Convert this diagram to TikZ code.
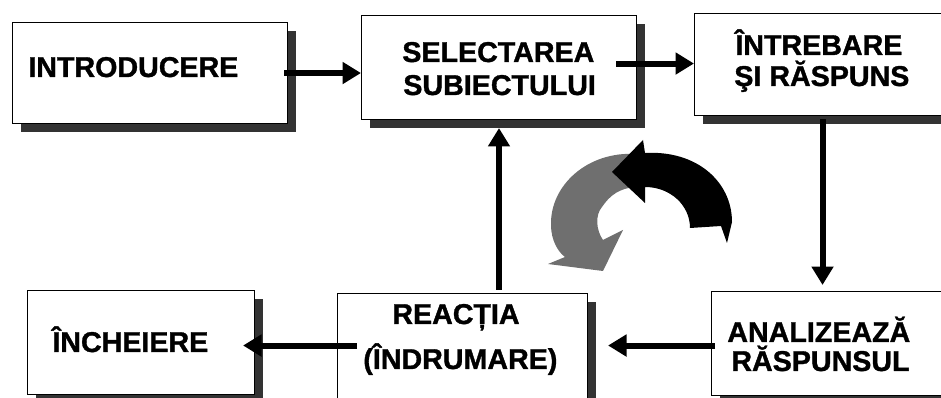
\documentclass[tikz,border=0pt]{standalone}
\usepackage{fontspec}
\setmainfont{Liberation Sans}[BoldFeatures={FakeBold=1.2}]
\usetikzlibrary{arrows.meta,calc,shadows}
\definecolor{shadowc}{HTML}{333333}
\definecolor{grayarrow}{HTML}{6F6F6F}
\def\pxu{0.02cm}
\tikzset{
  box/.style={draw=black, line width=0.6pt, fill=white, inner sep=0pt, anchor=north west,
    drop shadow={shadow xshift=0.16cm, shadow yshift=-0.16cm, opacity=1, fill=shadowc}},
  txt/.style={font=\bfseries\fontsize{16.3}{19}\selectfont, inner sep=0pt, anchor=base west},
  arr/.style={line width=3.4pt, -{Triangle[width=12pt,length=10.5pt]}},
}
\begin{document}
\begin{tikzpicture}[x=0.02cm,y=-0.02cm]
\useasboundingbox (0,0) rectangle (941,398);
\clip (0,0) rectangle (941,398);
% boxes
\node[box, minimum width=275*\pxu, minimum height=101*\pxu] (b1) at (12,22) {};
\node[box, minimum width=275*\pxu, minimum height=104*\pxu] (b2) at (361,15) {};
\node[box, minimum width=256*\pxu, minimum height=102*\pxu] (b3) at (694,13) {};
\node[box, minimum width=239*\pxu, minimum height=104*\pxu] (b4) at (711,291) {};
\node[box, minimum width=250*\pxu, minimum height=112*\pxu] (b5) at (337,293) {};
\node[box, minimum width=227*\pxu, minimum height=104*\pxu] (b6) at (27,290) {};
% texts
\node[txt] (t1) at (28,77) {INTRODUCERE};
\node[txt] (t2a) at (402,62) {SELECTAREA};
\node[txt] (t2b) at (403,95) {SUBIECTULUI};
\node[txt] (t3a) at (735,55) {ÎNTREBARE};
\node[txt] (t3b) at (734,86) {ŞI RĂSPUNS};
\node[txt] (t4a) at (727,342) {ANALIZEAZĂ};
\node[txt] (t4b) at (731,371) {RĂSPUNSUL};
\node[txt] (t5a) at (392,324) {REACȚIA};
\node[txt] (t5b) at (363,369) {(ÎNDRUMARE)};
\node[txt] (t6) at (52,352) {ÎNCHEIERE};
% connectors
\coordinate (a1s) at ($(b1.east)+(-4,0)$);
\draw[arr] (a1s) -- (a1s -| b2.west);
\coordinate (a2s) at ($(b2.east)+(-21,-4)$);
\draw[arr] (a2s) -- (a2s -| b3.west);
\coordinate (a3s) at ($(b3.south)+(0,3)$);
\draw[arr] (a3s) -- ($(a3s |- b4.north)+(0,-6)$);
\coordinate (a4s) at ($(b4.west)+(4,2)$);
\draw[arr] (a4s) -- ($(a4s -| b5.east)+(20,0)$);
\coordinate (a5s) at ($(b5.west)+(20,-4)$);
\draw[arr] (a5s) -- ($(a5s -| b6.east)+(-12,0)$);
\coordinate (a6s) at ($(b5.north west)+(162,-3)$);
\draw[arr] (a6s) -- ($(a6s |- b2.south)+(0,8)$);
% curved arrows
\fill[grayarrow] (636,154) .. controls (588,151) and (550,185) .. (551,225)
  .. controls (551,240) and (558,252) .. (565,257) -- (548,264) -- (603,271) -- (623,230)
  -- (603,240) .. controls (596,230) and (595,215) .. (602,207)
  .. controls (610,195) and (620,188) .. (636,187) -- cycle;
\fill[black] (645,153) .. controls (697,150) and (732,182) .. (732,222)
  -- (727,243) -- (721,226) -- (690,228)
  .. controls (690,205) and (670,187) .. (645,187)
  -- (645,203) -- (612,172) -- (643,140) -- cycle;
\end{tikzpicture}
\end{document}
